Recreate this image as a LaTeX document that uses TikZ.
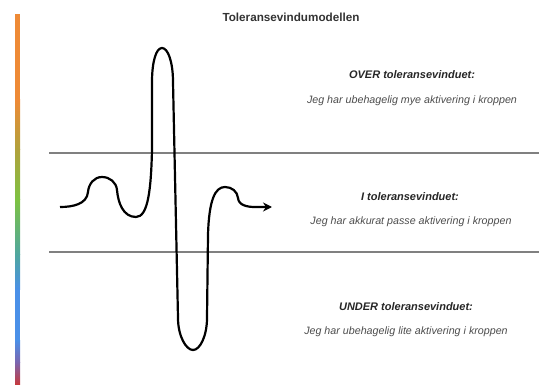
\documentclass[tikz,border=0pt]{standalone}
\usepackage{fontspec}
\setmainfont{Liberation Sans}
\usepackage{tikz}
\usetikzlibrary{arrows.meta}

\definecolor{barorange}{HTML}{EE8A36}
\definecolor{barolive}{HTML}{B0A23C}
\definecolor{bargreen}{HTML}{7DC242}
\definecolor{barteal}{HTML}{4FA6A0}
\definecolor{barblue}{HTML}{4A90E8}
\definecolor{barpurple}{HTML}{7A66B0}
\definecolor{barred}{HTML}{C8383A}

\begin{document}
\begin{tikzpicture}[
    x=1pt, y=-1pt,
    grenselinje/.style={draw=black!50, line width=1.6pt},
    kurve/.style={line width=2.2pt, line join=round, -{Stealth[length=9pt, width=9pt]}},
    overskrift/.style={font=\fontsize{11}{13}\selectfont\bfseries\itshape, text=black!85},
    forklaring/.style={font=\fontsize{10.7}{13}\selectfont\itshape, text=black!70},
    tittel/.style={font=\fontsize{11.7}{14}\selectfont\bfseries, text=black!80},
    stolpe/.style={draw=none, shading=axis, shading angle=0}
]
\useasboundingbox (0,0) rectangle (539,385);

% fargestolpe
\fill[barorange] (15,14) rectangle (20,100);
\shade[stolpe, top color=barorange, bottom color=barolive] (15,100) rectangle (20,150);
\shade[stolpe, top color=barolive, bottom color=bargreen] (15,150) rectangle (20,200);
\shade[stolpe, top color=bargreen, bottom color=barteal] (15,200) rectangle (20,255);
\shade[stolpe, top color=barteal, bottom color=barblue] (15,255) rectangle (20,290);
\fill[barblue] (15,290) rectangle (20,340);
\shade[stolpe, top color=barblue, bottom color=barpurple] (15,340) rectangle (20,362);
\shade[stolpe, top color=barpurple, bottom color=barred] (15,362) rectangle (20,385);

% tittel
\node[tittel] (tittel) at (291,17) {Toleransevindumodellen};

% grenser for vinduet
\coordinate (oevreV) at (49,153);
\coordinate (oevreH) at (539,153);
\coordinate (nedreV) at (49,252);
\coordinate (nedreH) at (539,252);
\draw[grenselinje] (oevreV) -- (oevreH);
\draw[grenselinje] (nedreV) -- (nedreH);

% tekster
\node[overskrift] (over) at (412,75) {OVER toleransevinduet:};
\node[forklaring] (overtekst) at (412,101) {Jeg har ubehagelig mye aktivering i kroppen};
\node[overskrift] (innenfor) at (410,197) {I toleransevinduet:};
\node[forklaring] (innenfortekst) at (411,222) {Jeg har akkurat passe aktivering i kroppen};
\node[overskrift] (under) at (406,307) {UNDER toleransevinduet:};
\node[forklaring] (undertekst) at (406,332) {Jeg har ubehagelig lite aktivering i kroppen};

% aktiveringskurven
\coordinate (start) at (60,207);
\coordinate (slutt) at (272,207);
\draw[kurve] (start) to[out=0,in=-95] (88,192)
    to[out=85,in=180] (102,177)
    to[out=0,in=95] (117,190)
    to[out=-85,in=180] (136,217)
    .. controls (148,217) and (151,190) .. (152,150)
    -- (152,82)
    .. controls (152,62) and (156,48) .. (162,48)
    .. controls (168,48) and (173,62) .. (173,82)
    -- (178,318)
    .. controls (178,336) and (186,350) .. (193,350)
    .. controls (200,350) and (207,336) .. (207,318)
    -- (208,235)
    .. controls (209,200) and (215,187) .. (225,187)
    to[out=0,in=95] (238,198)
    to[out=-85,in=180] (255,207)
    -- (slutt);
\end{tikzpicture}
\end{document}
